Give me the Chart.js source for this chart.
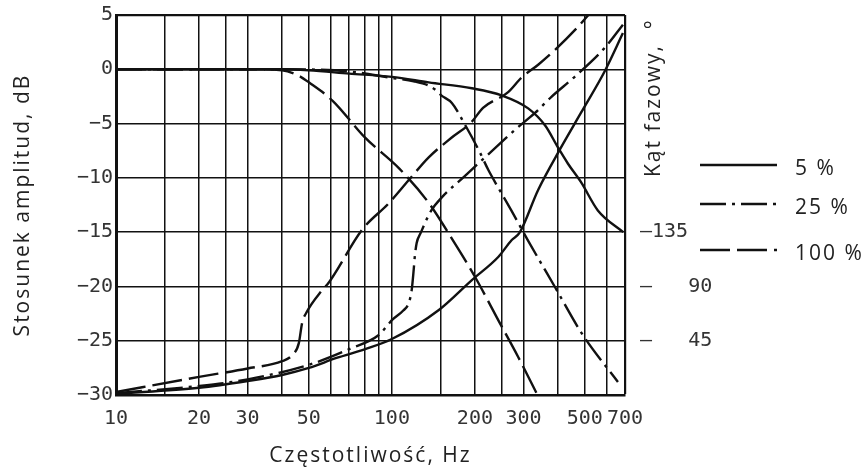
<!DOCTYPE html>
<html lang="pl">
<head>
<meta charset="utf-8">
<title>Charakterystyka amplitudowo-fazowa</title>
<script src="https://cdn.jsdelivr.net/npm/chart.js@4.4.1/dist/chart.umd.min.js"></script>
<style>
  html, body { margin: 0; padding: 0; background: #fff; }
  canvas { display: block; }
</style>
</head>
<body>
<canvas id="chart" width="864" height="469"></canvas>
<script>
// wartosci: czestotliwosc [Hz], stosunek amplitud [dB], kat fazowy [deg]
const ampFreq5 = [10, 20, 40, 50, 70, 100, 136, 195, 250, 312, 360, 400, 435, 485, 558, 690];
const amp5 = [0, 0, 0, -0.1, -0.4, -0.7, -1.2, -1.75, -2.4, -3.6, -5.2, -7.2, -8.7, -10.4, -13.0, -15.0];

const ampFreq25 = [10, 20, 40, 70, 100, 120, 136, 144, 151, 165, 185, 207, 224, 243, 271, 312, 391, 493, 660];
const amp25 = [0, 0, 0, -0.2, -0.8, -1.1, -1.5, -1.9, -2.4, -3.1, -5.2, -7.5, -9.3, -10.9, -13.0, -15.8, -20.1, -24.5, -28.8];

const ampFreq100 = [10, 20, 30, 40, 46, 50, 61, 80, 106, 136, 165, 201, 243, 287, 334];
const amp100 = [0, 0, 0, -0.1, -0.6, -1.2, -2.9, -6.3, -9.1, -12.3, -15.6, -19.2, -23.1, -26.5, -29.8];

const phFreq5 = [10, 20, 30, 40, 50, 63, 80, 100, 148, 195, 243, 272, 290, 339, 410, 485, 593, 688];
const ph5 = [1, 6, 11.6, 16.6, 22.4, 30.7, 38, 46.4, 70.5, 95.3, 114.4, 128.5, 134.3, 170, 205, 234, 269, 300];

const phFreq25 = [10, 20, 30, 50, 70, 90, 95, 100, 110, 115, 118, 120, 121, 123, 127, 139, 152, 185, 206, 248, 280, 331, 378, 461, 592, 688];
const ph25 = [1.5, 7.5, 13, 25, 38, 50, 56, 62, 70, 76, 87, 104, 114, 126, 134, 153, 164, 182, 192, 209, 220, 234, 247, 264, 288, 307];

const phFreq100 = [10, 20, 30, 40, 43.5, 46, 47.3, 48.9, 55.9, 59, 78, 97.5, 115, 136, 164, 194, 214, 264, 295, 340, 390, 472, 520];
const ph100 = [2.5, 15, 22, 28, 33, 43, 60, 68, 87, 93, 137, 159, 178, 197, 213, 226, 238, 251, 263, 274, 286, 305, 316];

const seriesLabels = ['5 %', '25 %', '100 %'];
const xGridTicks = [10, 15, 20, 25, 30, 40, 50, 60, 70, 80, 90, 100, 150, 200, 250, 300, 400, 500, 600, 700];
const xTickLabels = [10, 20, 30, 50, 100, 200, 300, 500, 700];
const phaseTicks = [45, 90, 135];

const xTitle = 'Częstotliwość, Hz';
const yTitle = 'Stosunek amplitud, dB';
const y2Title = 'Kąt fazowy,  °';

const ink = '#111';
const tickFont = { family: '"DejaVu Sans Mono", monospace', size: 20 };
const titleFont = '21px "Open Sans", sans-serif';

function toPoints(xs, ys) {
    return xs.map((x, i) => ({ x: x, y: ys[i] }));
}

function curve(label, xs, ys, dash, axis) {
    return {
        label: label,
        data: toPoints(xs, ys),
        yAxisID: axis,
        borderColor: ink,
        borderWidth: 2.4,
        borderDash: dash,
        pointRadius: 0,
        fill: false,
        cubicInterpolationMode: 'monotone'
    };
}

const dash25 = [26, 6, 3, 6];
const dash100 = [30, 7];

// tytuly osi, legenda
const extrasPlugin = {
    id: 'extras',
    afterDraw(chart) {
        const { ctx, chartArea } = chart;
        const legendY = [165, 204, 250];
        ctx.save();
        ctx.fillStyle = '#222';
        ctx.font = titleFont;
        ctx.letterSpacing = '2px';
        ctx.textBaseline = 'alphabetic';

        ctx.textAlign = 'center';
        ctx.fillText(xTitle, (chartArea.left + chartArea.right) / 2, chartArea.bottom + 67);

        chart.data.datasets.slice(0, 3).forEach((ds, i) => {
            const y = legendY[i];
            ctx.strokeStyle = ds.borderColor;
            ctx.lineWidth = ds.borderWidth;
            ctx.setLineDash(ds.borderDash || []);
            ctx.beginPath();
            ctx.moveTo(chartArea.right + 75, y);
            ctx.lineTo(chartArea.right + 152, y);
            ctx.stroke();
            ctx.setLineDash([]);
            ctx.textAlign = 'left';
            ctx.fillText(ds.label, chartArea.right + 170, y + 10);
        });

        ctx.save();
        ctx.translate(29, (chartArea.top + chartArea.bottom) / 2);
        ctx.rotate(-Math.PI / 2);
        ctx.textAlign = 'center';
        ctx.fillText(yTitle, 0, 0);
        ctx.restore();

        ctx.translate(chartArea.right + 35, chartArea.top + 162);
        ctx.rotate(-Math.PI / 2);
        ctx.textAlign = 'left';
        ctx.fillText(y2Title, 0, 0);
        ctx.restore();
    }
};

function fixWidth(w) {
    return (scale) => {
        scale.width = w;
        scale.paddingTop = 0;
        scale.paddingBottom = 0;
    };
}

new Chart(document.getElementById('chart'), {
    type: 'line',
    data: {
        datasets: [
            curve(seriesLabels[0], ampFreq5, amp5, [], 'y'),
            curve(seriesLabels[1], ampFreq25, amp25, dash25, 'y'),
            curve(seriesLabels[2], ampFreq100, amp100, dash100, 'y'),
            curve(seriesLabels[0], phFreq5, ph5, [], 'y2'),
            curve(seriesLabels[1], phFreq25, ph25, dash25, 'y2'),
            curve(seriesLabels[2], phFreq100, ph100, dash100, 'y2')
        ]
    },
    options: {
        responsive: false,
        animation: false,
        layout: { padding: { top: 15 } },
        plugins: {
            legend: { display: false },
            tooltip: { enabled: false }
        },
        scales: {
            x: {
                type: 'logarithmic',
                min: 10,
                max: 700,
                afterBuildTicks: (scale) => {
                    scale.ticks = xGridTicks.map(v => ({ value: v }));
                },
                afterFit: (scale) => {
                    scale.height = 74;
                    scale.paddingLeft = 0;
                    scale.paddingRight = 0;
                },
                ticks: {
                    autoSkip: false,
                    maxRotation: 0,
                    padding: 12,
                    color: '#333',
                    font: tickFont,
                    callback: (value) => xTickLabels.includes(value) ? String(value) : ''
                },
                grid: {
                    color: ink,
                    drawTicks: false,
                    lineWidth: (c) => (c.tick && c.tick.value === 700) ? 2.2 : 1.5
                },
                border: { color: ink, width: 2.5 }
            },
            y: {
                min: -30,
                max: 5,
                afterFit: fixWidth(116),
                ticks: {
                    stepSize: 5,
                    padding: 3,
                    color: '#333',
                    font: tickFont,
                    callback: (v) => v < 0 ? '−' + Math.abs(v) : String(v)
                },
                grid: {
                    color: ink,
                    drawTicks: false,
                    lineWidth: (c) => (c.tick && c.tick.value === 5) ? 2.2 : 1.5
                },
                border: { color: ink, width: 3 }
            },
            y2: {
                position: 'right',
                min: 0,
                max: 315,
                afterBuildTicks: (scale) => {
                    scale.ticks = phaseTicks.map(v => ({ value: v }));
                },
                afterFit: fixWidth(239),
                ticks: {
                    padding: 15,
                    color: '#333',
                    font: tickFont,
                    callback: (v) => v === 135 ? '–135' : '–   ' + v
                },
                grid: { display: false, drawTicks: false },
                border: { display: false }
            }
        }
    },
    plugins: [extrasPlugin]
});
</script>
</body>
</html>
